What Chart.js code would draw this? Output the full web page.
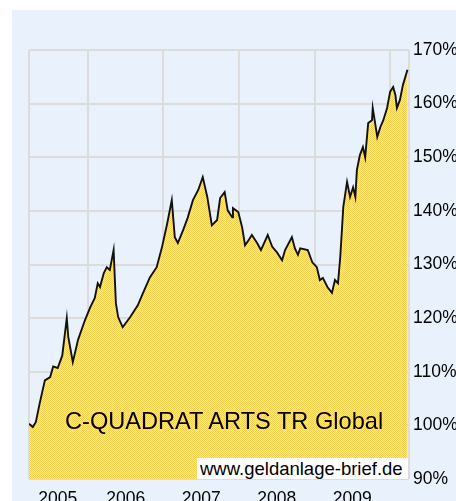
<!DOCTYPE html>
<html>
<head>
<meta charset="utf-8">
<script src="https://cdn.jsdelivr.net/npm/chart.js@4/dist/chart.umd.min.js"></script>
<style>
  body { margin: 0; background: #fff; }
  #wrap { position: relative; width: 456px; height: 501px; overflow: hidden; }
  #c { position: absolute; left: 0; top: 0; }
  .title {
    position: absolute; left: 65px; top: 409px;
    font: 23.6px "Liberation Sans", Arial, sans-serif; line-height: 24px;
    color: #000; white-space: nowrap;
  }
  .mark {
    position: absolute; left: 197px; top: 458px; width: 208px; height: 21px;
    padding-left: 3px; background: #fff;
    font: 18.5px "Liberation Sans", Arial, sans-serif; line-height: 21px;
    color: #000; white-space: nowrap;
  }
</style>
</head>
<body>
<div id="wrap">
  <canvas id="c" width="456" height="501"></canvas>
  <div class="title">C-QUADRAT ARTS TR Global</div>
  <div class="mark">www.geldanlage-brief.de</div>
</div>
<script>
// Wertentwicklung in % (Startwert 100), Zeit als Dezimaljahr
const dates = [2005.22, 2005.27, 2005.31, 2005.36, 2005.43, 2005.50, 2005.54, 2005.60, 2005.66, 2005.72,
  2005.74, 2005.80, 2005.87, 2005.96, 2006.03, 2006.09, 2006.13, 2006.16, 2006.21, 2006.25,
  2006.29, 2006.34, 2006.37, 2006.40, 2006.46, 2006.56, 2006.66, 2006.73, 2006.82, 2006.91,
  2006.98, 2007.05, 2007.11, 2007.15, 2007.19, 2007.26, 2007.32, 2007.39, 2007.46, 2007.52,
  2007.58, 2007.64, 2007.71, 2007.75, 2007.81, 2007.85, 2007.91, 2007.92, 2007.99, 2008.04,
  2008.08, 2008.13, 2008.17, 2008.24, 2008.29, 2008.38, 2008.44, 2008.50, 2008.57, 2008.61,
  2008.70, 2008.74, 2008.78, 2008.81, 2008.91, 2008.97, 2009.03, 2009.07, 2009.11, 2009.17,
  2009.23, 2009.27, 2009.31, 2009.34, 2009.36, 2009.38, 2009.43, 2009.47, 2009.51, 2009.54,
  2009.56, 2009.60, 2009.64, 2009.67, 2009.71, 2009.76, 2009.77, 2009.83, 2009.87, 2009.91,
  2009.96, 2010.00, 2010.04, 2010.07, 2010.09, 2010.13, 2010.17, 2010.23]
const values = [100.3, 99.7, 100.6, 104, 108.4, 109, 111, 110.7, 113, 120,
  116.5, 111.8, 116, 119.6, 122, 123.7, 126.5, 125.8, 128.4, 129.5,
  129, 132.7, 122.8, 120.2, 118.3, 120.2, 122.4, 124.7, 127.6, 129.5,
  133.2, 137.7, 142, 135.1, 134, 136.4, 138.7, 142, 143.9, 146.3,
  142.6, 137.3, 138.3, 142.4, 143.5, 140.1, 138.8, 140.5, 139.8, 137,
  133.6, 134.6, 135.5, 134, 132.7, 135.5, 133.3, 132.3, 130.8, 132.7,
  135.1, 133, 131.8, 133, 132.7, 130.4, 129.5, 127.1, 127.5, 125.8,
  124.7, 127.1, 126.5, 131.4, 136, 140.7, 145.4, 142.6, 144.4, 142.6,
  147.6, 150.4, 151.9, 150, 156.4, 156.9, 159.2, 153.8, 155.6, 156.9,
  159.2, 162.2, 163.1, 161.6, 159.2, 160.7, 163.5, 166.3]

// Jahresgrenzen (Gitter) und Jahresbeschriftungen
const yearLines = [2006, 2007, 2008, 2009, 2010]
const yearLabelPos = [2005.6, 2006.5, 2007.5, 2008.5, 2009.5]
const yearLabels = ['2005', '2006', '2007', '2008', '2009']

const xMin = 2005.22
const xMax = 2010.25

const FONT = '"Liberation Sans", Arial, sans-serif'

// gelbes Rastermuster für die Fläche
function makePattern() {
  const p = document.createElement('canvas')
  p.width = 2
  p.height = 2
  const pc = p.getContext('2d')
  pc.fillStyle = '#fbe8a4'
  pc.fillRect(0, 0, 2, 2)
  pc.fillStyle = '#f4cf4e'
  pc.fillRect(0, 0, 1, 1)
  pc.fillRect(1, 1, 1, 1)
  return document.getElementById('c').getContext('2d').createPattern(p, 'repeat')
}

const panelBg = {
  id: 'panelBg',
  beforeDraw(chart) {
    const ctx = chart.ctx
    ctx.save()
    ctx.fillStyle = '#e9f2fc'
    ctx.fillRect(12, 10, chart.width - 12, chart.height - 10)
    ctx.restore()
  },
}

new Chart(document.getElementById('c'), {
  type: 'line',
  data: {
    datasets: [
      {
        data: dates.map((d, i) => ({ x: d, y: values[i] })),
        borderColor: '#111',
        borderWidth: 1.9,
        backgroundColor: makePattern(),
        fill: 'start',
        pointRadius: 0,
        tension: 0,
      },
    ],
  },
  options: {
    responsive: false,
    animation: false,
    layout: {
      padding: { left: 29, top: 50, right: 0, bottom: 0 },
    },
    plugins: {
      legend: { display: false },
      tooltip: { enabled: false },
    },
    scales: {
      x: {
        type: 'linear',
        min: xMin,
        max: xMax,
        afterBuildTicks: (scale) => {
          scale.ticks = [xMin].concat(yearLines, [xMax]).map((v) => ({ value: v }))
        },
        afterFit: (scale) => {
          scale.height = 0
        },
        ticks: { display: false },
        grid: { color: '#dcdcdc', lineWidth: 2, drawTicks: false },
        border: { display: false },
      },
      x2: {
        type: 'linear',
        position: 'bottom',
        min: xMin,
        max: xMax,
        afterBuildTicks: (scale) => {
          scale.ticks = yearLabelPos.map((v) => ({ value: v }))
        },
        afterFit: (scale) => {
          scale.height = 22
        },
        ticks: {
          autoSkip: false,
          maxRotation: 0,
          padding: 2,
          color: '#000',
          font: { family: FONT, size: 17.5 },
          callback: (v, i) => yearLabels[i],
        },
        grid: { display: false },
        border: { display: false },
      },
      y: {
        position: 'right',
        min: 90,
        max: 170,
        afterFit: (scale) => {
          scale.width = 47
        },
        ticks: {
          stepSize: 10,
          padding: 4,
          color: '#000',
          font: { family: FONT, size: 17.5 },
          callback: (v) => v + '%',
        },
        grid: { color: '#dcdcdc', lineWidth: 2, drawTicks: false },
        border: { display: false },
      },
    },
  },
  plugins: [panelBg],
})
</script>
</body>
</html>
